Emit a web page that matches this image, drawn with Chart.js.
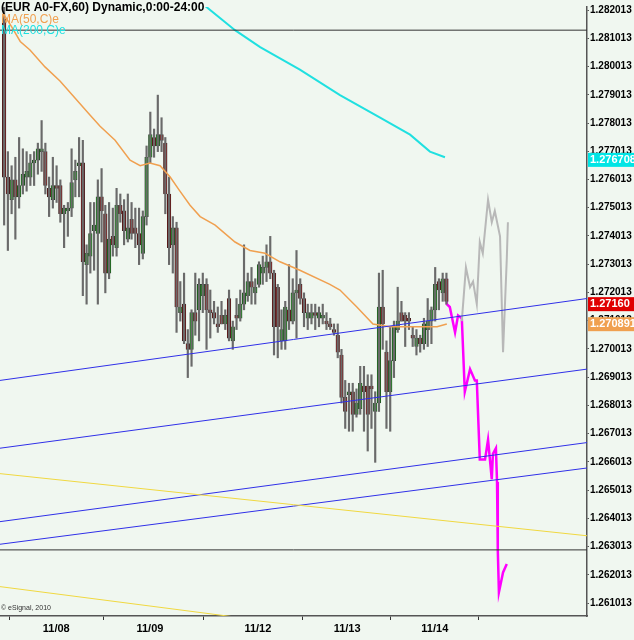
<!DOCTYPE html>
<html>
<head>
<meta charset="utf-8">
<script src="https://cdn.jsdelivr.net/npm/chart.js@4/dist/chart.umd.min.js"></script>
<style>
  html, body { margin: 0; padding: 0; background: #f0f7f0; }
  #wrap { width: 634px; height: 640px; position: relative; }
</style>
</head>
<body>
<div id="wrap"><canvas id="c"></canvas></div>
<script>
// Hourly candles (index = bar number)
const opens  = [1.2817,1.2761,1.2753,1.2760,1.2754,1.2758,1.2761,1.2761,1.2766,1.2767,1.2770,1.2770,1.2757,1.2753,1.2758,1.2758,1.2748,1.2749,1.2750,1.2760,1.2765,1.2766,1.2730,1.2733,1.2742,1.2741,1.2754,1.2748,1.2727,1.2740,1.2736,1.2751,1.2749,1.2739,1.2746,1.2743,1.2741,1.2734,1.2747,1.2768,1.2775,1.2772,1.2776,1.2773,1.2755,1.2737,
  1.2743,1.2713,1.2716,1.2702,1.2700,1.2713,1.2714,1.2719,1.2723,1.2714,1.2713,1.2709,1.2712,1.2709,1.2718,1.2703,1.2712,1.2711,1.2716,1.2719,1.2724,1.2720,1.2723,1.2727,1.2729,1.2731,1.2727,1.2722,1.2703,1.2703,1.2714,1.2710,1.2720,
  1.2723,1.2718,1.2711,1.2711,1.2713,1.2711,1.2711,1.2710,1.2709,1.2707,1.2705,1.2698,1.2683,1.2684,1.2685,1.2677,1.2679,1.2687,1.2687,1.2687,1.2678,1.2681,1.2715,1.2699,1.2685,1.2696,1.2707,1.2713,1.2712,1.2711,1.2705,1.2701,1.2704,1.2702,1.2707,1.2710,1.2714,1.2724,1.2720,1.2725];
const highs  = [1.2822,1.2770,1.2765,1.2768,1.2775,1.2771,1.2770,1.2769,1.2770,1.2773,1.2781,1.2773,1.2761,1.2768,1.2765,1.2760,1.2751,1.2752,1.2771,1.2767,1.2775,1.2774,1.2737,1.2752,1.2752,1.2760,1.2764,1.2751,1.2752,1.2750,1.2757,1.2755,1.2753,1.2755,1.2752,1.2750,1.2750,1.2749,1.2772,1.2784,1.2778,1.2790,1.2782,1.2775,1.2761,1.2747,
  1.2745,1.2724,1.2727,1.2707,1.2714,1.2727,1.2725,1.2727,1.2725,1.2721,1.2717,1.2715,1.2717,1.2714,1.2721,1.2710,1.2718,1.2721,1.2737,1.2727,1.2729,1.2725,1.2731,1.2733,1.2737,1.2740,1.2728,1.2723,1.2714,1.2717,1.2730,1.2725,1.2735,
  1.2725,1.2720,1.2716,1.2716,1.2716,1.2715,1.2716,1.2713,1.2711,1.2709,1.2709,1.2700,1.2689,1.2688,1.2688,1.2686,1.2694,1.2694,1.2691,1.2691,1.2685,1.2727,1.2728,1.2703,1.2708,1.2710,1.2722,1.2717,1.2713,1.2713,1.2708,1.2707,1.2705,1.2711,1.2718,1.2715,1.2729,1.2725,1.2727,1.2727];
const lows   = [1.2744,1.2735,1.2748,1.2739,1.2750,1.2755,1.2756,1.2758,1.2758,1.2762,1.2763,1.2755,1.2747,1.2750,1.2752,1.2745,1.2736,1.2740,1.2747,1.2754,1.2754,1.2719,1.2716,1.2727,1.2728,1.2716,1.2738,1.2720,1.2725,1.2733,1.2733,1.2745,1.2737,1.2738,1.2739,1.2736,1.2730,1.2732,1.2744,1.2766,1.2768,1.2770,1.2770,1.2748,1.2730,1.2727,
  1.2706,1.2710,1.2702,1.2690,1.2694,1.2705,1.2703,1.2713,1.2700,1.2704,1.2709,1.2706,1.2709,1.2707,1.2703,1.2700,1.2707,1.2710,1.2714,1.2717,1.2716,1.2716,1.2722,1.2723,1.2724,1.2725,1.2698,1.2697,1.2700,1.2700,1.2707,1.2709,1.2704,
  1.2716,1.2708,1.2707,1.2709,1.2707,1.2708,1.2709,1.2707,1.2707,1.2705,1.2697,1.2681,1.2672,1.2671,1.2671,1.2676,1.2677,1.2671,1.2664,1.2672,1.2660,1.2678,1.2700,1.2672,1.2671,1.2690,1.2706,1.2710,1.2701,1.2707,1.2701,1.2698,1.2699,1.2700,1.2701,1.2702,1.2710,1.2714,1.2717,1.2716];
const closes = [1.2761,1.2755,1.2760,1.2754,1.2758,1.2762,1.2763,1.2766,1.2767,1.2771,1.2771,1.2758,1.2754,1.2758,1.2757,1.2748,1.2750,1.2750,1.2759,1.2763,1.2766,1.2731,1.2734,1.2741,1.2744,1.2754,1.2749,1.2727,1.2739,1.2737,1.2751,1.2748,1.2742,1.2743,1.2741,1.2741,1.2737,1.2747,1.2768,1.2776,1.2772,1.2776,1.2774,1.2755,1.2736,1.2743,
  1.2715,1.2715,1.2703,1.2700,1.2713,1.2710,1.2723,1.2723,1.2714,1.2713,1.2711,1.2708,1.2709,1.2712,1.2704,1.2708,1.2711,1.2716,1.2720,1.2724,1.2722,1.2722,1.2730,1.2729,1.2731,1.2727,1.2708,1.2708,1.2707,1.2715,1.2710,1.2720,1.2721,
  1.2718,1.2713,1.2713,1.2713,1.2712,1.2713,1.2712,1.2709,1.2708,1.2706,1.2699,1.2683,1.2678,1.2685,1.2677,1.2681,1.2688,1.2685,1.2677,1.2686,1.2681,1.2715,1.2709,1.2685,1.2696,1.2708,1.2710,1.2710,1.2710,1.2710,1.2704,1.2704,1.2702,1.2709,1.2710,1.2714,1.2723,1.2721,1.2725,1.2717];

// Moving averages [bar index, price]
const ma50 = [[-0.3,1.2819],[2.1,1.2814],[4.3,1.2809],[6.9,1.2806],[10.9,1.2800],[14.9,1.2795],[18.9,1.2789],[22.9,1.2783],[25.6,1.2779],[29.6,1.2774],[33.6,1.2767],[36.3,1.2765],[38.9,1.2766],[41.6,1.2765],[44.3,1.2761],[46.9,1.2756],[49.6,1.2751],[52.3,1.2747],[56.3,1.2744],[61.6,1.2738],[65.6,1.2735],[69.6,1.2734],[73.6,1.2731],[78.9,1.2728],[86.9,1.2723],[89.6,1.2721],[94.1,1.2715],[98.4,1.2709],[102.9,1.2708],[110.9,1.2708],[115.5,1.2708],[118.1,1.2709]];
const ma200 = [[52.3,1.2823],[61.6,1.2813],[68.3,1.2807],[78.9,1.2799],[89.6,1.2790],[100.3,1.2782],[108.3,1.2776],[113.6,1.2770],[117.6,1.2768]];

// Projections
const projMagenta = [[117.9,1.2725],[118.1,1.2716],[118.9,1.2715],[120.3,1.2706],[121.1,1.2712],[122.1,1.2711],[122.9,1.2685],[124.3,1.2693],[125.6,1.2689],[126.1,1.2689],[126.9,1.2661],[128.3,1.2661],[129.1,1.2668],[130.1,1.2654],[130.4,1.2663],[131.2,1.2665],[131.5,1.2653],[131.7,1.2629],[132.0,1.2614],[133.1,1.2621],[134.1,1.2624]];
const projGrey = [[122.1,1.2710],[123.2,1.2729],[124.3,1.2722],[125.1,1.2724],[126.1,1.2716],[126.9,1.2738],[127.7,1.2734],[129.1,1.2753],[130.1,1.2745],[130.9,1.2749],[132.3,1.2740],[133.1,1.2699],[134.1,1.2732],[134.4,1.2745]];

// Trend lines [[x0,y0],[x1,y1]]
const blueLines = [
  [[-1.1,1.2689],[155.5,1.2718]],
  [[-1.1,1.2665],[155.5,1.2693]],
  [[-1.1,1.2639],[155.5,1.2667]],
  [[-1.1,1.2631],[155.5,1.2658]]
];
const yellowLines = [
  [[-1.1,1.2656],[155.5,1.2634]],
  [[-1.1,1.2616],[63,1.2605]]
];
const blackLines = [1.2813, 1.2629];

const dayTicks = [13.9, 38.9, 67.7, 91.5, 114.9];
const dayLabels = ['11/08', '11/09', '11/12', '11/13', '11/14'];
const priceTicks = [];
for (let k = 0; k <= 21; k++) priceTicks.push(1.261013 + k * 0.001);

const tags = [
  { value: 1.276708, text: '1.276708', bg: '#00e5e5' },
  { value: 1.27160,  text: '1.27160',  bg: '#e00000' },
  { value: 1.270891, text: '1.270891', bg: '#f0a050' }
];

const xs = opens.map((_, i) => i);
const wickData = xs.map(i => ({ x: i, y: [lows[i], highs[i]] }));
const bodyData = xs.map(i => ({ x: i, y: [Math.min(opens[i], closes[i]), Math.max(opens[i], closes[i])] }));
const bodyColors = xs.map(i => closes[i] >= opens[i] ? '#129612' : '#8a0a0a');
const toPts = arr => arr.map(p => ({ x: p[0], y: p[1] }));

function lineDs(data, color, width) {
  return { type: 'line', data: data, borderColor: color, borderWidth: width, pointRadius: 0, tension: 0, fill: false };
}

const datasets = [];
blackLines.forEach(v => datasets.push(lineDs([{ x: -1.1, y: v }, { x: 155.5, y: v }], '#333333', 1)));
yellowLines.forEach(l => datasets.push(lineDs(toPts(l), '#f0d840', 1)));
blueLines.forEach(l => datasets.push(lineDs(toPts(l), '#3030e8', 1)));
datasets.push(lineDs(toPts(ma200), '#20e0e0', 2));
datasets.push(lineDs(toPts(ma50), '#f0a050', 1.5));
datasets.push({ type: 'bar', data: wickData, backgroundColor: '#6a6a6a', barThickness: 1.5, grouped: false });
datasets.push({ type: 'bar', data: bodyData, backgroundColor: bodyColors, borderColor: '#2a2a2a', borderWidth: 0.6, barThickness: 3.6, minBarLength: 1.5, grouped: false, borderSkipped: false });
datasets.push(lineDs(toPts(projGrey), '#b8b8b8', 2));
datasets.push(lineDs(toPts(projMagenta), '#ff00ff', 2.5));

const overlay = {
  id: 'overlay',
  afterDraw(chart) {
    const ctx = chart.ctx;
    const y = chart.scales.y;
    const area = chart.chartArea;
    ctx.save();
    ctx.textBaseline = 'middle';
    ctx.font = 'bold 11px "Liberation Sans", Arial';
    tags.forEach(t => {
      const py = y.getPixelForValue(t.value);
      ctx.fillStyle = t.bg;
      ctx.fillRect(area.right + 1, py - 7, 47, 14);
      ctx.fillStyle = '#ffffff';
      ctx.textAlign = 'left';
      ctx.fillText(t.text, area.right + 3, py);
    });
    ctx.font = 'bold 12px "Liberation Sans", Arial';
    ctx.fillStyle = '#000';
    ctx.fillText('(EUR A0-FX,60) Dynamic,0:00-24:00', 1, 8);
    ctx.font = '12px "Liberation Sans", Arial';
    ctx.fillStyle = '#f0a050';
    ctx.fillText('MA(50,C)e', 1, 20);
    ctx.fillStyle = '#20e0e0';
    ctx.fillText('MA(200,C)e', 1, 31);
    ctx.font = '7px "Liberation Sans", Arial';
    ctx.fillStyle = '#333';
    ctx.fillText('\u00a9 eSignal, 2010', 1, area.bottom - 8);
    ctx.restore();
  }
};

new Chart(document.getElementById('c'), {
  data: { datasets: datasets },
  options: {
    responsive: true,
    maintainAspectRatio: false,
    animation: false,
    layout: { padding: 0 },
    plugins: { legend: { display: false }, tooltip: { enabled: false } },
    scales: {
      x: {
        type: 'linear',
        min: -1.1,
        max: 155.5,
        offset: false,
        afterBuildTicks: s => { s.ticks = dayTicks.map(v => ({ value: v })); },
        afterFit: s => { s.height = 24; },
        ticks: {
          autoSkip: false, maxRotation: 0, color: '#000', padding: 2,
          font: { family: 'Liberation Sans', size: 11, weight: 'bold' },
          callback: (v, i) => dayLabels[i]
        },
        grid: { drawOnChartArea: false, tickLength: 4, color: '#333' },
        border: { color: '#555', width: 1.5 }
      },
      y: {
        type: 'linear',
        position: 'right',
        min: 1.26056,
        max: 1.28212,
        afterBuildTicks: s => { s.ticks = priceTicks.map(v => ({ value: v })); },
        afterFit: s => { s.width = 47; },
        ticks: {
          color: '#000', padding: 1,
          font: { family: 'Liberation Sans', size: 10, weight: 'bold' },
          callback: v => v.toFixed(6)
        },
        grid: { drawOnChartArea: false, tickLength: 2, color: '#555' },
        border: { color: '#555', width: 1.5 }
      }
    }
  },
  plugins: [overlay]
});
</script>
</body>
</html>
